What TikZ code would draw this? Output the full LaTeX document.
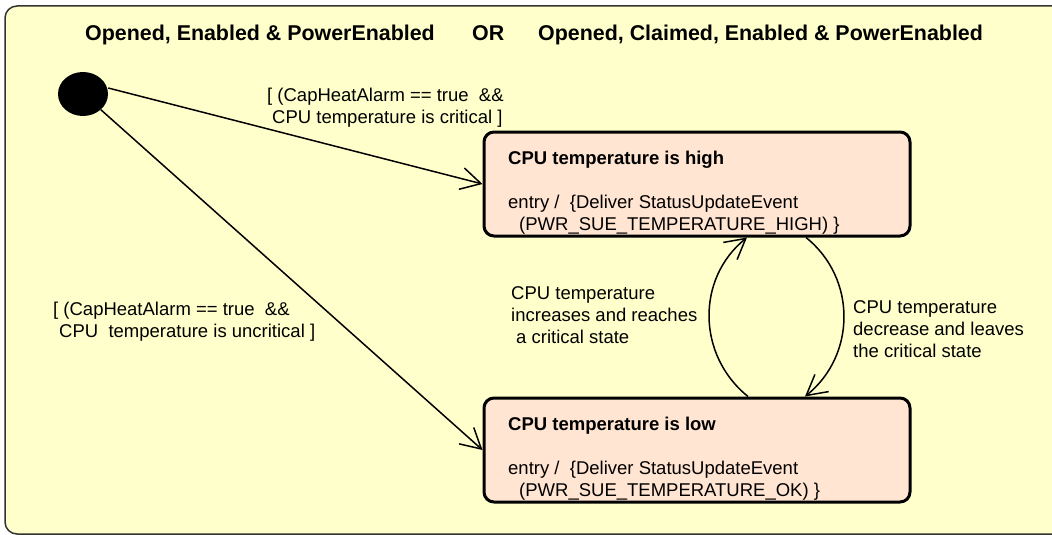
\documentclass[tikz,border=0pt]{standalone}
\usepackage{fontspec}
\setmainfont{Liberation Sans}
\usetikzlibrary{shapes.geometric,arrows.meta}
\definecolor{frameyellow}{RGB}{255,255,204}
\definecolor{statefill}{RGB}{255,229,210}
\begin{document}
\begin{tikzpicture}[x=1pt,y=-1pt,
    head/.style={font=\fontsize{21.4}{25}\selectfont\bfseries, anchor=base west, inner sep=0},
    startdot/.style={ellipse, fill=black, minimum width=50pt, minimum height=44pt, inner sep=0},
    state/.style={rectangle, draw, rounded corners=10pt, line width=3pt, fill=statefill, minimum width=426pt, minimum height=104pt},
    statename/.style={font=\fontsize{18.5}{22}\selectfont\bfseries, anchor=base west, inner sep=0},
    txt/.style={font=\fontsize{18.5}{21.8}\selectfont, align=left, anchor=base west, inner sep=0},
    trans/.style={draw, line width=1.5pt, -{Straight Barb[length=20pt,width=22pt,line width=1.5pt]}}
]
\useasboundingbox (0,0) rectangle (1052,535);
\draw[fill=frameyellow, draw=black!80, line width=1.5pt, rounded corners=12pt] (5,6) rectangle (1075,534);

\node[head] (left) at (85,41) {Opened, Enabled \& PowerEnabled};
\node[head] (or) at (472,41) {OR};
\node[head] (right) at (538,41) {Opened, Claimed, Enabled \& PowerEnabled};

\node[startdot] (init) at (83,94) {};
\node[state] (high) at (697,184) {};
\node[state] (low) at (697,450) {};

\node[statename] (highname) at (508,164) {CPU temperature is high};
\node[txt] (highentry) at (508,230) {entry /\ \ \{Deliver StatusUpdateEvent\\\hspace{11pt}(PWR\_SUE\_TEMPERATURE\_HIGH) \}};
\node[statename] (lowname) at (508,430) {CPU temperature is low};
\node[txt] (lowentry) at (508,496) {entry /\ \ \{Deliver StatusUpdateEvent\\\hspace{11pt}(PWR\_SUE\_TEMPERATURE\_OK) \}};

\draw[trans] ([yshift=6pt]init.east) -- (high.west);
\draw[trans] (init.south east) -- (low.west);
\draw[trans] ([xshift=51pt]low.north) .. controls +(-51,-41) and +(-51,41) .. ([xshift=50pt]high.south);
\draw[trans] ([xshift=109pt]high.south) .. controls +(51,41) and +(51,-41) .. ([xshift=108pt]low.north);

\node[txt] (critical) at (267,123) {[ (CapHeatAlarm == true\ \ \&\&\\\hspace{5pt}CPU temperature is critical ]};
\node[txt] (uncritical) at (53,337) {[ (CapHeatAlarm == true\ \ \&\&\\\hspace{6pt}CPU\ \ temperature is uncritical ]};
\node[txt] (rises) at (511,343) {CPU temperature\\increases and reaches\\\hspace{5pt}a critical state};
\node[txt] (falls) at (853,357) {CPU temperature\\decrease and leaves\\the critical state};
\end{tikzpicture}
\end{document}
